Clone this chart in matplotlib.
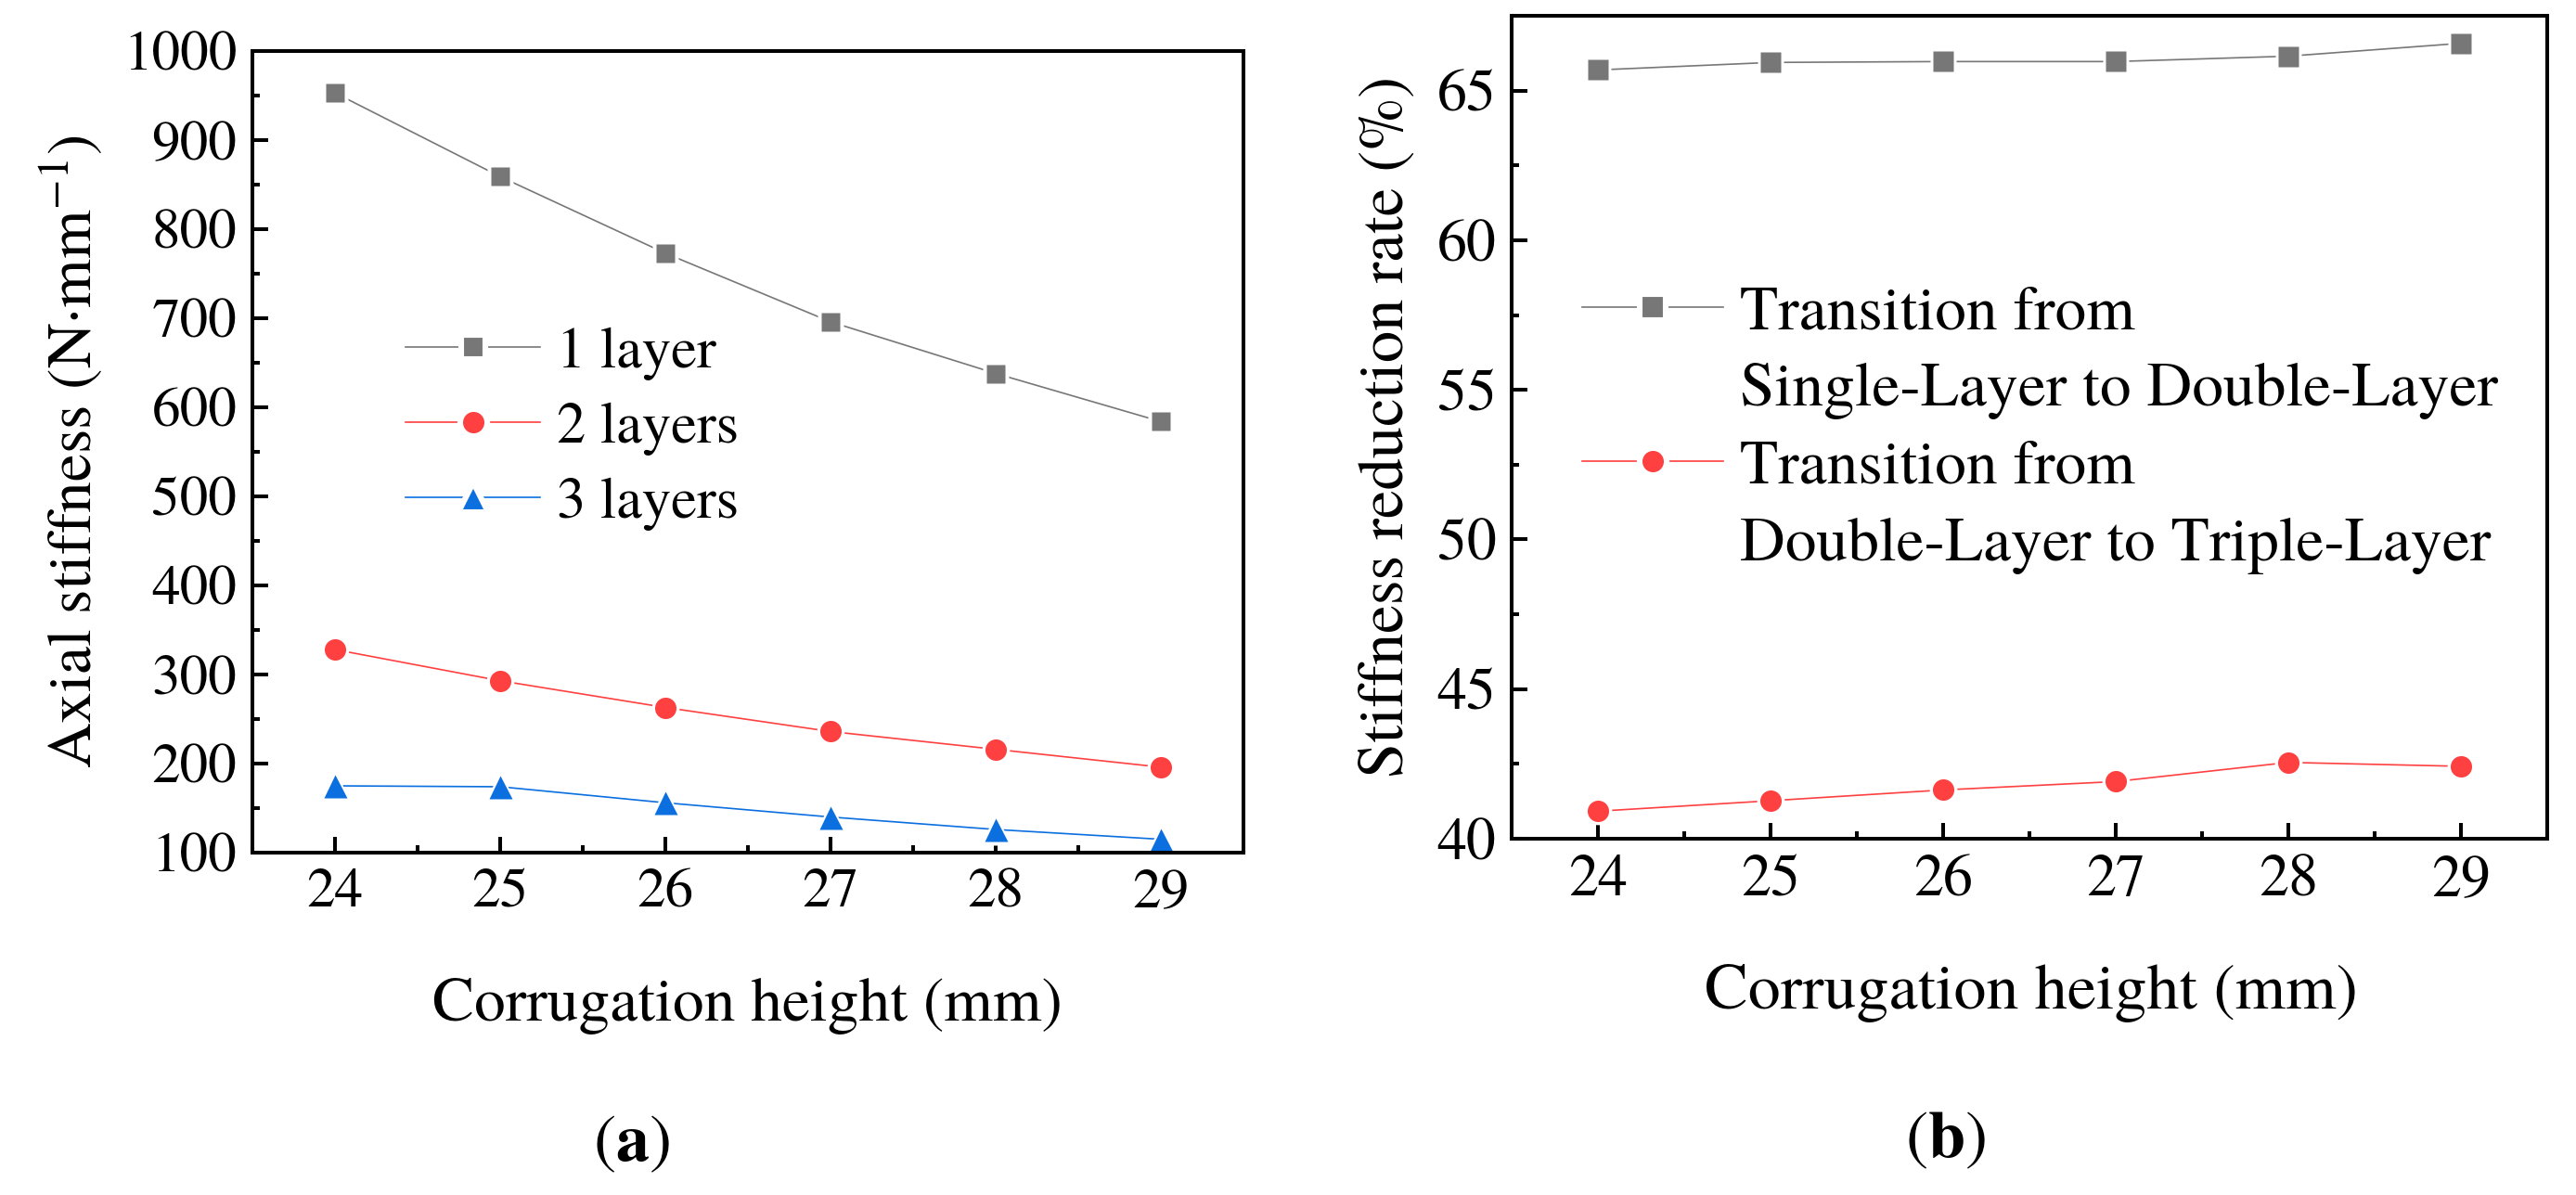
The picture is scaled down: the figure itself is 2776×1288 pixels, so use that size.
import matplotlib
matplotlib.use("Agg")
import matplotlib.pyplot as plt
from matplotlib import font_manager as fm
from matplotlib.lines import Line2D
from matplotlib.ticker import MultipleLocator

SERIF_PATH = fm.findfont(fm.FontProperties(family='TeX Gyre Termes'),
                         fallback_to_default=False)
if 'termes' not in SERIF_PATH.lower():
    SERIF_PATH = fm.findfont(fm.FontProperties(family='Liberation Serif'))
SERIF = fm.FontProperties(fname=SERIF_PATH).get_name()


def fp(size):
    return fm.FontProperties(fname=SERIF_PATH, size=size)


# data
heights = [24, 25, 26, 27, 28, 29]
stiff_1 = [953, 859, 773, 696, 638, 584]
stiff_2 = [328, 293, 263, 236, 216, 196]
stiff_3 = [175, 174, 156, 140, 126, 115]
rate_12 = [65.69, 65.94, 65.97, 65.97, 66.15, 66.58]
rate_23 = [40.92, 41.27, 41.63, 41.91, 42.55, 42.42]

GRAY = '#777777'
RED = '#FF4040'
BLUE = '#0B6FE0'

W, H = 2776, 1288
DPI = 200
fig = plt.figure(figsize=(W / DPI, H / DPI), dpi=DPI)


def px_axes(x0, y0, x1, y1):
    # pixel box (top-left origin) -> figure fraction
    return fig.add_axes([x0 / W, 1 - y1 / H, (x1 - x0) / W, (y1 - y0) / H])


def series(ax, x, y, color, marker, ms, ms_white):
    # thin line broken by a white halo, coloured marker on top
    ax.plot(x, y, color=color, lw=0.6, marker=marker, ms=ms_white,
            mfc='white', mec='none', zorder=2)
    ax.plot(x, y, ls='none', marker=marker, ms=ms, mfc=color, mec='none',
            zorder=2.1)
    # proxy for the legend
    return Line2D([], [], color=color, lw=0.6, marker=marker, ms=ms + 2.2,
                  mfc=color, mec='white', mew=2.2)


def style(ax, fs):
    for s in ax.spines.values():
        s.set_linewidth(1.45)
    ax.tick_params(which='both', direction='in', top=False, right=False,
                   width=1.45, labelsize=fs, labelfontfamily=SERIF)
    ax.tick_params(which='major', length=6, pad=6)
    ax.tick_params(which='minor', length=3)
    ax.set_xlim(23.5, 29.5)
    ax.xaxis.set_major_locator(MultipleLocator(1))
    ax.xaxis.set_minor_locator(MultipleLocator(0.5))


def fix_ticks(ax, fs):
    for t in ax.get_xticklabels() + ax.get_yticklabels():
        t.set_fontproperties(fp(fs))


def ftext(x, y, s, size, **kw):
    return fig.text(x / W, 1 - y / H, s, fontproperties=fp(size),
                    ha='center', va='center', **kw)


# (a)
ax1 = px_axes(272, 55, 1340, 919)
h1 = series(ax1, heights, stiff_1, GRAY, 's', 7.4, 9.8)
h2 = series(ax1, heights, stiff_2, RED, 'o', 8.3, 10.7)
h3 = series(ax1, heights, stiff_3, BLUE, '^', 9.0, 12.0)
style(ax1, 22)
ax1.set_ylim(100, 1000)
ax1.yaxis.set_major_locator(MultipleLocator(100))
ax1.yaxis.set_minor_locator(MultipleLocator(50))
fix_ticks(ax1, 22)
ax1.legend([h1, h2, h3], ['1 layer', '2 layers', '3 layers'],
           loc='upper left', bbox_to_anchor=(0.1545, 0.656), frameon=False,
           borderpad=0, borderaxespad=0, prop=fp(22.5),
           handlelength=2.32, handletextpad=0.29, labelspacing=0.37,
           numpoints=1)

ftext(805, 1084, 'Corrugation height (mm)', 24.3)
ftext(78, 487, 'Axial stiffness (N\u00b7mm$^{-1}$)', 24.3, rotation=90,
      math_fontfamily='stix')
ftext(680, 1235, r'($\mathbf{a}$)', 26, math_fontfamily='stix')

# (b)
ax2 = px_axes(1629, 17, 2745, 904)
g1 = series(ax2, heights, rate_12, GRAY, 's', 7.6, 10.0)
g2 = series(ax2, heights, rate_23, RED, 'o', 8.3, 10.7)
style(ax2, 23)
ax2.set_ylim(40, 67.5)
ax2.yaxis.set_major_locator(MultipleLocator(5))
ax2.yaxis.set_minor_locator(MultipleLocator(2.5))
fix_ticks(ax2, 23)
blank = Line2D([], [], ls='none')
ax2.legend([g1, blank, g2, blank],
           ['Transition from', 'Single-Layer to Double-Layer',
            'Transition from', 'Double-Layer to Triple-Layer'],
           loc='upper left', bbox_to_anchor=(0.0685, 0.673), frameon=False,
           borderpad=0, borderaxespad=0, prop=fp(24.3),
           handlelength=2.24, handletextpad=0.27, labelspacing=0.31,
           numpoints=1)

ftext(2189, 1071, 'Corrugation height (mm)', 25.2)
ftext(1495, 460, 'Stiffness reduction rate (%)', 24.7, rotation=90)
ftext(2096, 1231, r'($\mathbf{b}$)', 26, math_fontfamily='stix')

fig.savefig('out.png', dpi=DPI)
